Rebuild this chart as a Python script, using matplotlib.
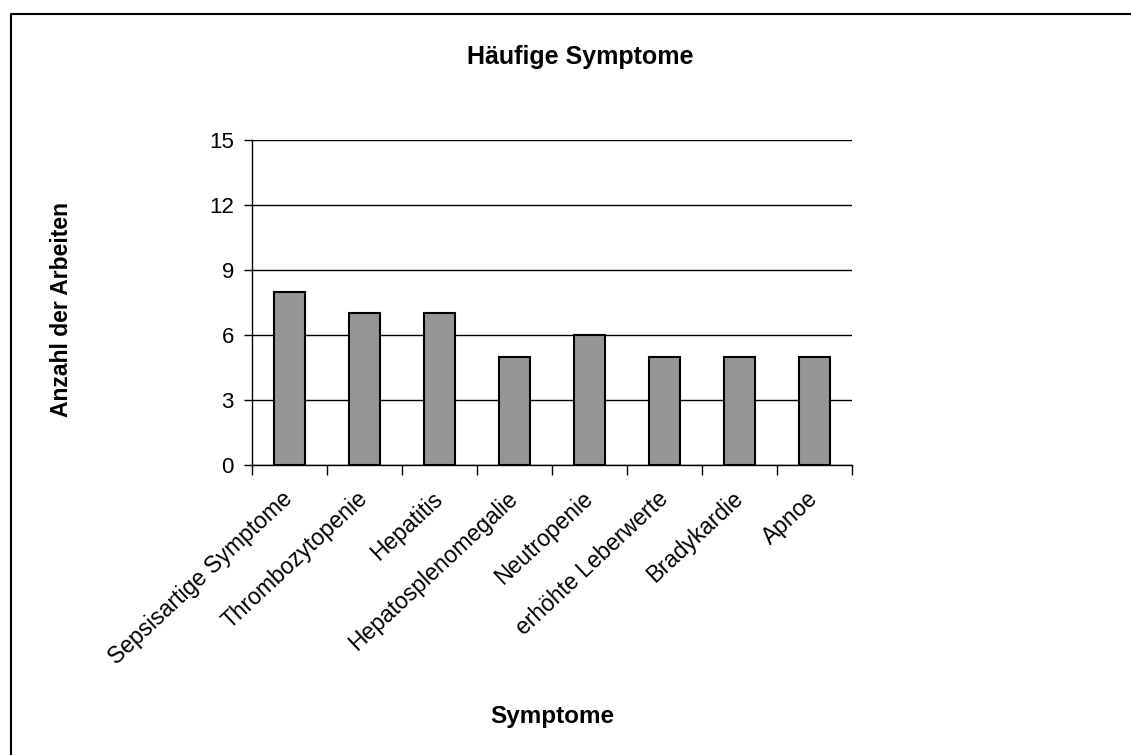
import matplotlib.pyplot as plt
from matplotlib.lines import Line2D

plt.rcParams['font.family'] = ['Liberation Sans', 'DejaVu Sans']

symptome = ['Sepsisartige Symptome', 'Thrombozytopenie', 'Hepatitis',
            'Hepatosplenomegalie', 'Neutropenie', 'erhöhte Leberwerte',
            'Bradykardie', 'Apnoe']
anzahl = [8, 7, 7, 5, 6, 5, 5, 5]
y_ticks = [0, 3, 6, 9, 12, 15]

fig = plt.figure(figsize=(11.31, 7.55), dpi=100)
ax = fig.add_axes([252 / 1131, 1 - 465 / 755, 600 / 1131, 325 / 755])

x = list(range(len(symptome)))
ax.bar(x, anzahl, width=0.42, color='#969696', edgecolor='black',
       linewidth=1.5, zorder=3)

ax.set_xlim(-0.5, len(symptome) - 0.5)
ax.set_ylim(0, 15)
ax.set_yticks(y_ticks)
ax.tick_params(axis='y', labelsize=16, length=6, width=1, pad=7, direction='out')
ax.yaxis.grid(True, color='black', linewidth=1)
ax.set_axisbelow(True)

# ticks between categories, labels at centres
ax.set_xticks([i + 0.5 for i in range(-1, len(symptome))])
ax.set_xticklabels([])
ax.tick_params(axis='x', length=7, width=1, direction='out')
ax.set_xticks(x, minor=True)
ax.set_xticklabels(symptome, minor=True, rotation=43, ha='right', va='center',
                   rotation_mode='anchor', fontsize=16.5)
ax.tick_params(axis='x', which='minor', length=0, pad=22)

for s in ['top', 'right']:
    ax.spines[s].set_visible(False)
for s in ['left', 'bottom']:
    ax.spines[s].set_linewidth(1)

fig.text(580 / 1131, 1 - 57 / 755, 'Häufige Symptome', fontsize=18,
         fontweight='bold', ha='center', va='center')
fig.text(62 / 1131, 1 - 309 / 755, 'Anzahl der Arbeiten', fontsize=16.5,
         fontweight='bold', rotation=90, ha='center', va='center')
fig.text(552 / 1131, 1 - 717 / 755, 'Symptome', fontsize=17.5,
         fontweight='bold', ha='center', va='center')

# chart border (left and top visible)
fig.add_artist(Line2D([11 / 1131, 11 / 1131, 1.0], [0.0, 1 - 14 / 755, 1 - 14 / 755],
                      transform=fig.transFigure, color='black', linewidth=1.5))

fig.savefig('out.png', dpi=100)
